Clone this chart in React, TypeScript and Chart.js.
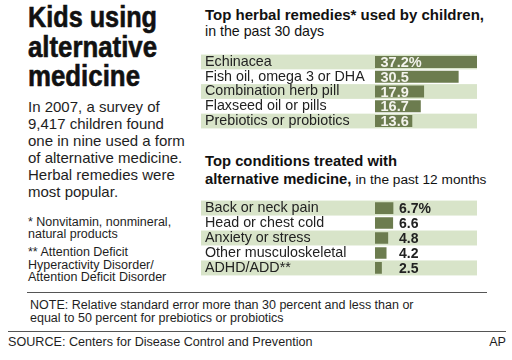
import React, { useEffect, useRef } from "react";
import { Chart, registerables } from "chart.js";

Chart.register(...registerables);

const herbCategories = [
  "Echinacea",
  "Fish oil, omega 3 or DHA",
  "Combination herb pill",
  "Flaxseed oil or pills",
  "Prebiotics or probiotics",
];
const herbValues = [37.2, 30.5, 17.9, 16.7, 13.6];

const conditionCategories = [
  "Back or neck pain",
  "Head or chest cold",
  "Anxiety or stress",
  "Other musculoskeletal",
  "ADHD/ADD**",
];
const conditionValues = [6.7, 6.6, 4.8, 4.2, 2.5];

const axisMax = 37.2;

const titleLines = ["Kids using", "alternative", "medicine"];

const BAR = "#6c7c4f";
const BAND = "#d8e4c9";
const SANS = "'Liberation Sans', Arial, Helvetica, sans-serif";

type PanelProps = {
  labels: string[];
  values: number[];
  top: number;
  height: number;
  barPct: number;
  inside: boolean;
};

function fmt(v: number, i: number) {
  return i === 0 ? v.toFixed(1) + "%" : v.toFixed(1);
}

function BarPanel({ labels, values, top, height, barPct, inside }: PanelProps) {
  const ref = useRef<HTMLCanvasElement | null>(null);
  useEffect(() => {
    if (!ref.current) return;
    const bandPlugin = {
      id: "bands",
      beforeDraw(chart: any) {
        const { ctx, chartArea } = chart;
        const y = chart.scales.y;
        const n = labels.length;
        const half = (chartArea.bottom - chartArea.top) / (2 * n);
        ctx.save();
        ctx.fillStyle = BAND;
        for (let i = 0; i < n; i += 2) {
          const c = y.getPixelForValue(i);
          ctx.fillRect(0, c - half, chartArea.right, half * 2);
        }
        ctx.restore();
      },
    };
    const valuePlugin = {
      id: "values",
      afterDatasetsDraw(chart: any) {
        const { ctx, chartArea } = chart;
        const meta = chart.getDatasetMeta(0);
        ctx.save();
        ctx.textBaseline = "middle";
        ctx.textAlign = "left";
        meta.data.forEach((bar: any, i: number) => {
          const txt = fmt(values[i], i);
          if (inside) {
            ctx.font = `bold 14.5px ${SANS}`;
            ctx.fillStyle = "#f3f3ec";
            ctx.fillText(txt, bar.base + 5.5, bar.y + 1);
          } else {
            ctx.font = `bold 14px ${SANS}`;
            ctx.fillStyle = "#222";
            ctx.fillText(txt, chartArea.left + 24, bar.y + 1);
          }
        });
        ctx.restore();
      },
    };
    const chart = new Chart(ref.current, {
      type: "bar",
      data: {
        labels,
        datasets: [
          {
            data: values,
            backgroundColor: BAR,
            borderWidth: 0,
            barPercentage: barPct,
            categoryPercentage: 1,
          },
        ],
      },
      options: {
        indexAxis: "y",
        animation: false,
        responsive: false,
        maintainAspectRatio: false,
        layout: { padding: { left: 4, right: 0, top: 0, bottom: 0 } },
        plugins: {
          legend: { display: false },
          tooltip: { enabled: false },
          title: { display: false },
        },
        scales: {
          x: { display: false, min: 0, max: axisMax },
          y: {
            afterFit(scale: any) {
              scale.width = 170;
            },
            grid: { display: false, drawTicks: false },
            border: { display: false },
            ticks: {
              autoSkip: false,
              crossAlign: "far",
              padding: 0,
              color: "#222",
              font: { family: SANS, size: 14.3 },
            },
          },
        },
      },
      plugins: [bandPlugin, valuePlugin],
    } as any);
    return () => chart.destroy();
  }, []);
  return (
    <canvas
      ref={ref}
      width={276}
      height={height}
      style={{ position: "absolute", left: 201, top, width: 276, height }}
    />
  );
}

function BigTitle() {
  const widths = [129, 129, 112];
  const baselines = [27.3, 56.7, 86];
  return (
    <svg
      width={200}
      height={95}
      style={{ position: "absolute", left: 0, top: 0 }}
    >
      {titleLines.map((t, i) => (
        <text
          key={i}
          x={28}
          y={baselines[i]}
          textLength={widths[i]}
          lengthAdjust="spacingAndGlyphs"
          style={{
            fontFamily: SANS,
            fontWeight: 700,
            fontSize: 29,
            fill: "#111",
            stroke: "#111",
            strokeWidth: 0.6,
          }}
        >
          {t}
        </text>
      ))}
    </svg>
  );
}

export default function App() {
  const abs = (s: React.CSSProperties): React.CSSProperties => ({
    position: "absolute",
    margin: 0,
    ...s,
  });
  return (
    <div
      style={{
        position: "absolute",
        left: 0,
        top: 0,
        width: 512,
        height: 360,
        overflow: "hidden",
        background: "#fff",
        fontFamily: SANS,
        color: "#1e1e1e",
      }}
    >
      <BigTitle />
      <div
        style={abs({
          left: 28,
          top: 98,
          fontSize: 15,
          lineHeight: "17px",
          whiteSpace: "nowrap",
        })}
      >
        In 2007, a survey of
        <br />
        9,417 children found
        <br />
        one in nine used a form
        <br />
        of alternative medicine.
        <br />
        Herbal remedies were
        <br />
        most popular.
      </div>
      <div
        style={abs({
          left: 28,
          top: 215.5,
          fontSize: 12.5,
          lineHeight: "12.5px",
          whiteSpace: "nowrap",
        })}
      >
        * Nonvitamin, nonmineral,
        <br />
        natural products
      </div>
      <div
        style={abs({
          left: 28,
          top: 246,
          fontSize: 12.5,
          lineHeight: "12.5px",
          whiteSpace: "nowrap",
        })}
      >
        ** Attention Deficit
        <br />
        Hyperactivity Disorder/
        <br />
        Attention Deficit Disorder
      </div>

      <div
        style={abs({
          left: 205,
          top: 7,
          fontSize: 15,
          lineHeight: "16px",
          whiteSpace: "nowrap",
          color: "#111",
        })}
      >
        <b>Top herbal remedies* used by children,</b>
        <br />
        <span style={{ fontSize: 14.2 }}>in the past 30 days</span>
      </div>
      <BarPanel
        labels={herbCategories}
        values={herbValues}
        top={46}
        height={91}
        barPct={0.82}
        inside={true}
      />

      <div
        style={abs({
          left: 205,
          top: 153.4,
          fontSize: 14.8,
          lineHeight: "17.5px",
          whiteSpace: "nowrap",
          color: "#111",
        })}
      >
        <b>Top conditions treated with</b>
        <br />
        <b>alternative medicine,</b>{" "}
        <span style={{ fontSize: 13.7 }}>in the past 12 months</span>
      </div>
      <BarPanel
        labels={conditionCategories}
        values={conditionValues}
        top={192}
        height={92}
        barPct={0.78}
        inside={false}
      />

      <div
        style={abs({
          left: 27,
          top: 292,
          width: 460,
          height: 0,
          borderTop: "1.5px solid #555",
        })}
      />
      <div
        style={abs({
          left: 30,
          top: 298.7,
          fontSize: 12.5,
          lineHeight: "13px",
          whiteSpace: "nowrap",
        })}
      >
        NOTE: Relative standard error more than 30 percent and less than or
        <br />
        equal to 50 percent for prebiotics or probiotics
      </div>
      <div
        style={abs({
          left: 8,
          top: 331,
          width: 498,
          height: 0,
          borderTop: "1.5px solid #555",
        })}
      />
      <div
        style={abs({
          left: 8,
          top: 334.5,
          fontSize: 12.6,
          lineHeight: "14px",
          whiteSpace: "nowrap",
        })}
      >
        SOURCE: Centers for Disease Control and Prevention
      </div>
      <div
        style={abs({
          right: 6,
          top: 334.5,
          fontSize: 12.6,
          lineHeight: "14px",
        })}
      >
        AP
      </div>
    </div>
  );
}
